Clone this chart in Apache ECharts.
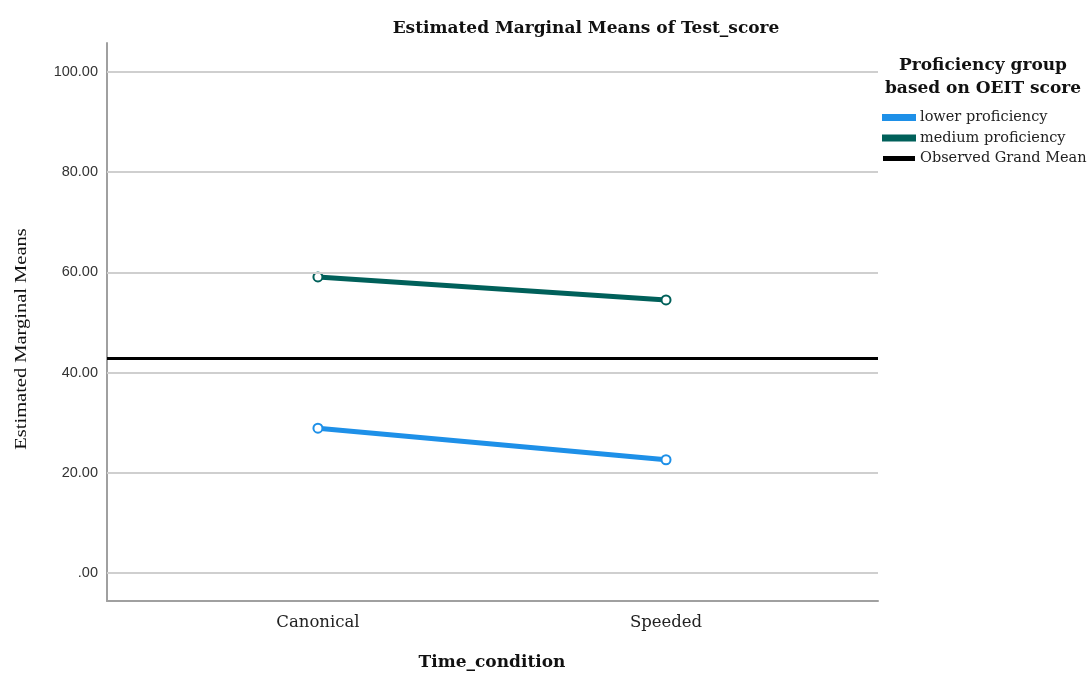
<!DOCTYPE html>
<html>
<head>
<meta charset="utf-8">
<script src="https://cdn.jsdelivr.net/npm/echarts@6/dist/echarts.min.js"></script>
<style>html,body{margin:0;padding:0;background:#fff}#c{width:1089px;height:675px}</style>
</head>
<body>
<div id="c"></div>
<script>
var categories = ['Canonical', 'Speeded'];
var lowerProficiency = [28.9, 22.6];
var mediumProficiency = [59.1, 54.5];
var grandMean = 42.9;
var yTicks = [0, 20, 40, 60, 80, 100];
var seriesNames = ['lower proficiency', 'medium proficiency', 'Observed Grand Mean'];

var serif = '"DejaVu Serif", "Liberation Serif", serif';
var lserif = '"Liberation Serif", serif';
var sans = '"Liberation Sans", Arial, sans-serif';

function pts(arr){ return arr.map(function(v,i){ return [i, v]; }); }

var chart = echarts.init(document.getElementById('c'));
chart.setOption({
  animation: false,
  backgroundColor: '#fff',
  title: {
    text: 'Estimated Marginal Means of Test_score',
    left: 581, top: 15, textAlign: 'center',
    textStyle: {fontFamily: serif, fontWeight: 'bold', fontSize: 17, color: '#111'}
  },
  grid: {left: 107, right: 211, top: 43, bottom: 74, containLabel: false},
  legend: {
    orient: 'vertical', left: 882, top: 110, padding: 0,
    itemWidth: 32, itemHeight: 5, itemGap: 5.5,
    textStyle: {fontFamily: serif, fontSize: 14.5, color: '#222'},
    data: [
      {name: seriesNames[0], icon: 'rect'},
      {name: seriesNames[1], icon: 'rect'},
      {name: seriesNames[2], icon: 'rect'}
    ]
  },
  graphic: [
    {type: 'text', x: 983, y: 54, style: {text: 'Proficiency group\nbased on OEIT score', align: 'center', font: 'bold 17px ' + serif, fill: '#111', lineHeight: 23}},
    {type: 'text', x: 22, y: 339, rotation: Math.PI/2, scaleX: 1.28, style: {text: 'Estimated Marginal Means', align: 'center', verticalAlign: 'middle', font: '16px ' + lserif, fill: '#111'}},
    {type: 'text', x: 492, y: 663, style: {text: 'Time_condition', align: 'center', verticalAlign: 'middle', font: 'bold 17px ' + serif, fill: '#111'}}
  ],
  xAxis: {
    type: 'value', min: -0.606, max: 1.609,
    axisLine: {show: true, onZero: false, lineStyle: {color: '#a0a0a0', width: 2}},
    axisTick: {show: false},
    splitLine: {show: false},
    axisLabel: {
      customValues: [0, 1], margin: 13,
      formatter: function(v){ return categories[Math.round(v)] || ''; },
      fontFamily: serif, fontSize: 16.5, color: '#222'
    }
  },
  yAxis: {
    type: 'value', min: -5.6, max: 105.8,
    axisLine: {show: true, onZero: false, lineStyle: {color: '#a0a0a0', width: 2}},
    axisTick: {show: false, customValues: yTicks},
    splitLine: {show: false},
    axisLabel: {
      customValues: yTicks, margin: 9,
      formatter: function(v){ return v === 0 ? '.00' : v.toFixed(2); },
      fontFamily: sans, fontSize: 14.5, color: '#333'
    }
  },
  series: [
    {
      name: 'grid', type: 'line', data: [], silent: true,
      markLine: {silent: true, symbol: 'none', label: {show: false},
        lineStyle: {color: '#cfcfcf', width: 2, type: 'solid'},
        data: yTicks.map(function(t){ return {yAxis: t}; })},
      z: 1
    },
    {
      name: seriesNames[0], type: 'line', data: pts(lowerProficiency),
      color: '#1e90e8',
      lineStyle: {width: 5, color: '#1e90e8'},
      symbol: 'emptyCircle', symbolSize: 9, showSymbol: true,
      itemStyle: {color: '#1e90e8', borderWidth: 1.5, borderColor: '#1e90e8'},
      z: 3
    },
    {
      name: seriesNames[1], type: 'line', data: pts(mediumProficiency),
      color: '#00605a',
      lineStyle: {width: 5, color: '#00605a'},
      symbol: 'emptyCircle', symbolSize: 9, showSymbol: true,
      itemStyle: {color: '#00605a', borderWidth: 1.5, borderColor: '#00605a'},
      z: 3
    },
    {
      name: seriesNames[2], type: 'line', data: [], color: '#000',
      lineStyle: {color: '#000', width: 3},
      markLine: {silent: true, symbol: 'none', label: {show: false},
        lineStyle: {color: '#000', width: 3, type: 'solid'},
        data: [{yAxis: grandMean}]},
      z: 2
    }
  ]
});
</script>
</body>
</html>
